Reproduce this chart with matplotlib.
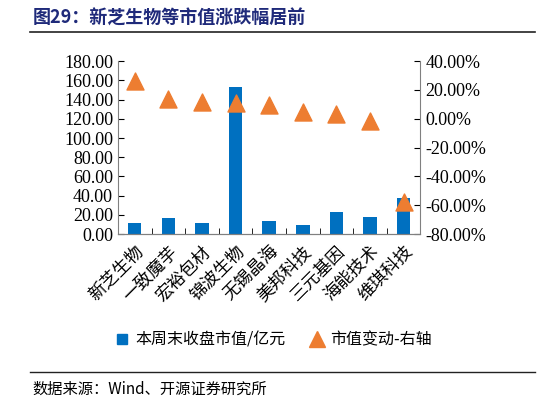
import matplotlib
matplotlib.use('Agg')
import matplotlib.pyplot as plt
from matplotlib.lines import Line2D
from matplotlib.patches import Patch
import numpy as np

plt.rcParams['font.family'] = ['Liberation Serif', 'DejaVu Serif']
plt.rcParams['mathtext.fontset'] = 'stix'

categories = ['新芝生物', '一致魔芋', '宏裕包材', '锦波生物', '无锡晶海', '美邦科技', '三元基因', '海能技术', '维琪科技']
mktcap = [11.5, 17, 12, 153, 14, 9, 22.5, 17.5, 38]
change = [26, 14, 12, 11, 9.5, 4.5, 3, -1.6, -57.5]
left_ticks = np.arange(0, 181, 20)
right_ticks = np.arange(-80, 41, 20)

SERIF = ['Liberation Serif', 'DejaVu Serif']
CJK = ['Noto Sans CJK SC']

fig = plt.figure(figsize=(5.46, 4.05), dpi=100)
ax = fig.add_axes([0.216, 0.422, 0.554, 0.427])
x = np.arange(len(categories))
ax.bar(x, mktcap, width=0.4, color='#0070C0', zorder=2)
ax.set_ylim(0, 180)
ax.set_yticks(left_ticks)
ax.set_yticklabels([f'{v:.2f}' for v in left_ticks], fontsize=13, family=SERIF)
ax.set_xlim(-0.5, len(categories) - 0.5)
ax.set_xticks(x)
ax.set_xticklabels(categories, rotation=45, ha='right', rotation_mode='anchor',
                   fontsize=12.5, family=CJK)
ax.set_xticks(np.arange(-0.5, len(categories), 1), minor=True)
ax.tick_params(axis='x', which='major', length=0, pad=6)
ax.tick_params(axis='x', which='minor', length=4, direction='in')
ax.tick_params(axis='y', direction='in', length=4)
for s in ['top', 'right']:
    ax.spines[s].set_visible(False)

ax2 = ax.twinx()
ax2.scatter(x, change, marker='^', s=150, color='#ED7D31', zorder=3)
ax2.set_ylim(-80, 40)
ax2.set_yticks(right_ticks)
ax2.set_yticklabels([f'{v:.2f}%' for v in right_ticks], fontsize=13, family=SERIF)
ax2.tick_params(axis='y', direction='in', length=4)
ax2.spines['top'].set_visible(False)
ax2.spines['left'].set_visible(False)
for a in (ax, ax2):
    for s in a.spines.values():
        s.set_color('#808080')

handles = [Line2D([], [], marker='s', ls='none', color='#0070C0', markersize=7),
           Line2D([], [], marker='^', ls='none', color='#ED7D31', markersize=11)]
fig.legend(handles, ['本周末收盘市值/亿元', '市值变动-右轴'], loc='center', bbox_to_anchor=(0.5, 0.16),
           ncol=2, frameon=False, prop={'family': CJK, 'size': 11.5}, handlelength=1.0,
           columnspacing=1.5, handletextpad=0.3)

fig.text(0.06, 0.955, '图29：新芝生物等市值涨跌幅居前', fontsize=13, fontweight='bold',
         color='#1F2A7A', family=CJK, va='center')
fig.add_artist(Line2D([0.055, 0.98], [0.922, 0.922], color='#222222', lw=1.2))
fig.add_artist(Line2D([0.055, 0.98], [0.082, 0.082], color='#222222', lw=1.0))
fig.text(0.06, 0.04, '数据来源：Wind、开源证券研究所', fontsize=11, family=CJK, va='center')

fig.savefig('out.png', dpi=100)
